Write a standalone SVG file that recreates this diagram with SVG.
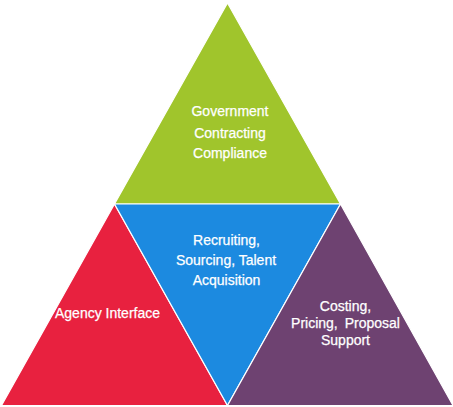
<svg xmlns="http://www.w3.org/2000/svg" width="453" height="407" viewBox="0 0 453 407">
<style>
.seg{stroke:#ffffff;stroke-width:1.2;stroke-linejoin:miter}
.lbl{font-family:"Liberation Sans",Arial,sans-serif;font-size:14px;fill:#ffffff;stroke:#ffffff;stroke-width:0.25;text-anchor:middle}
</style>
<rect width="453" height="407" fill="#ffffff"/>
<g id="government">
<polygon class="seg" points="227.5,3 340.5,204 114.5,204" fill="#a0c52c"/>
<text class="lbl" x="230" y="115.5">Government</text>
<text class="lbl" x="230" y="137.5">Contracting</text>
<text class="lbl" x="230" y="158">Compliance</text>
</g>
<g id="agency">
<polygon class="seg" points="114.5,204 227.5,405.5 1.5,405.5" fill="#e8213f"/>
<text class="lbl" x="107.5" y="318">Agency Interface</text>
</g>
<g id="recruiting">
<polygon class="seg" points="114.5,204 340.5,204 227.5,405.5" fill="#1c8ae0"/>
<text class="lbl" x="226.5" y="245">Recruiting,</text>
<text class="lbl" x="226" y="265">Sourcing, Talent</text>
<text class="lbl" x="226.5" y="285">Acquisition</text>
</g>
<g id="costing">
<polygon class="seg" points="340.5,204 453,405.5 227.5,405.5" fill="#6e4271"/>
<text class="lbl" x="345.5" y="311">Costing,</text>
<text class="lbl" x="345.5" y="328" word-spacing="3">Pricing, Proposal</text>
<text class="lbl" x="345.5" y="345">Support</text>
</g>
<g id="connectors"/>
</svg>
